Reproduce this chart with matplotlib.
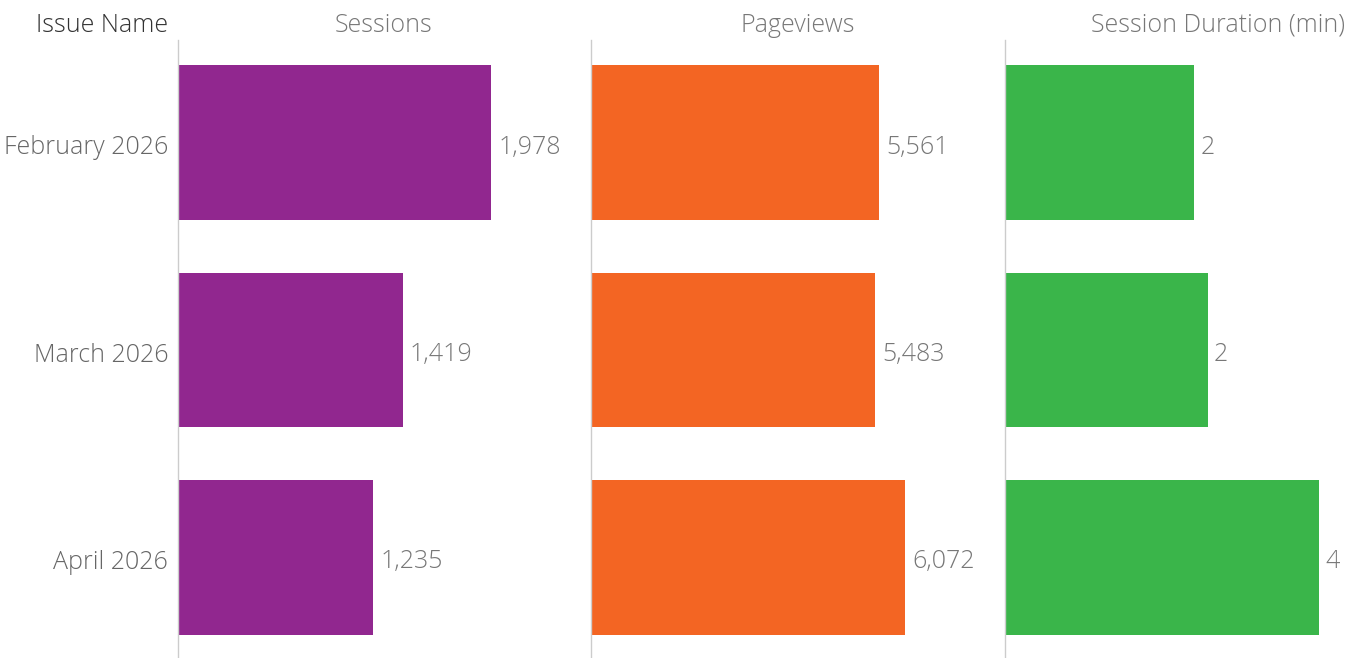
import matplotlib.pyplot as plt
from matplotlib.transforms import ScaledTranslation

# Issue rows, top to bottom
issues = ["February 2026", "March 2026", "April 2026"]
sessions = [1978, 1419, 1235]
pageviews = [5561, 5483, 6072]
duration_min = [2.23, 2.39, 3.70]  # shown rounded to whole minutes

panel_titles = ["Sessions", "Pageviews", "Session Duration (min)"]
panel_values = [sessions, pageviews, duration_min]
panel_colors = ["#91278f", "#f36523", "#3ab54a"]
panel_xmax = [2610, 8000, 4.03]

W, H = 1347, 658
plt.rcParams["font.family"] = ["Open Sans", "DejaVu Sans"]

fig = plt.figure(figsize=(W / 100, H / 100), dpi=100)

# panel edges in pixels
lefts = [178, 591, 1005]
rights = [591, 1005, 1347]
top_px = 40
FS = 18

axes = []
for i, (vals, color, xmax) in enumerate(zip(panel_values, panel_colors, panel_xmax)):
    ax = fig.add_axes([lefts[i] / W, 0, (rights[i] - lefts[i]) / W, (H - top_px) / H])
    ypos = list(range(len(issues)))
    ax.barh(ypos, vals, height=0.747, color=color)
    ax.set_xlim(0, xmax)
    ax.set_ylim(2.485, -0.495)
    for y, v in zip(ypos, vals):
        ax.text(v + xmax * 0.018, y + 0.022, f"{v:,.0f}", va="center", ha="left",
                fontsize=FS, color="#777777", fontweight="light")
    for side in ["top", "right", "bottom"]:
        ax.spines[side].set_visible(False)
    ax.spines["left"].set_color("#cccccc")
    ax.spines["left"].set_linewidth(1)
    ax.set_xticks([])
    if i == 0:
        ax.set_yticks(ypos)
        ax.set_yticklabels(issues, fontsize=FS, color="#666666", fontweight="light")
        ax.tick_params(axis="y", length=0, pad=7)
        shift = ScaledTranslation(0, -2 / 100, fig.dpi_scale_trans)
        for lbl in ax.get_yticklabels():
            lbl.set_transform(lbl.get_transform() + shift)
    else:
        ax.set_yticks([])
    axes.append(ax)

# header row
hy = 1 - 25 / H
fig.text(168 / W, hy, "Issue Name", ha="right", va="center", fontsize=FS,
         color="#333333", fontweight="light")
fig.text(384 / W, hy, panel_titles[0], ha="center", va="center", fontsize=FS,
         color="#777777", fontweight="light")
fig.text(798 / W, hy, panel_titles[1], ha="center", va="center", fontsize=FS,
         color="#777777", fontweight="light")
fig.text(1345 / W, hy, panel_titles[2], ha="right", va="center", fontsize=FS,
         color="#777777", fontweight="light")

fig.savefig("out.png", dpi=100)
plt.close(fig)
